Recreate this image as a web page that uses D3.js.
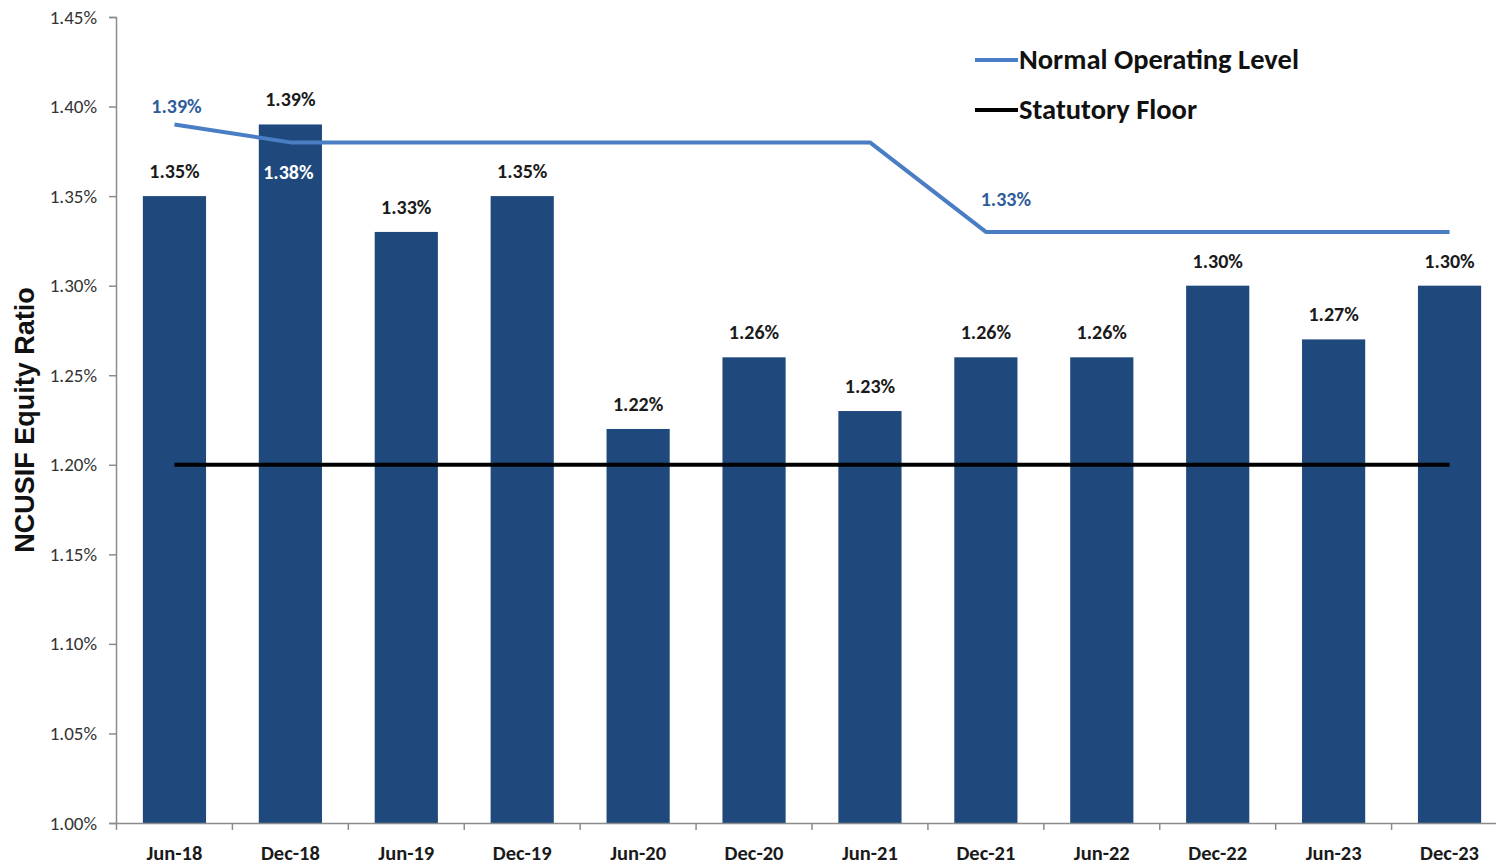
<!DOCTYPE html>
<html>
<head>
<meta charset="utf-8">
<script src="https://cdn.jsdelivr.net/npm/d3@7"></script>
<style>
  body { margin: 0; background: #fff; }
  svg { display: block; }
  text { font-family: Calibri, Carlito, "Liberation Sans Narrow", "Open Sans", sans-serif; }
</style>
</head>
<body>
<svg id="chart" width="1496" height="865"></svg>
<script>
// data
const periods = ["Jun-18", "Dec-18", "Jun-19", "Dec-19", "Jun-20", "Dec-20",
  "Jun-21", "Dec-21", "Jun-22", "Dec-22", "Jun-23", "Dec-23"];
const equityRatio = [1.35, 1.39, 1.33, 1.35, 1.22, 1.26, 1.23, 1.26, 1.26, 1.30, 1.27, 1.30];
const normalOperatingLevel = [1.39, 1.38, 1.38, 1.38, 1.38, 1.38, 1.38, 1.33, 1.33, 1.33, 1.33, 1.33];
const statutoryFloor = [1.20, 1.20, 1.20, 1.20, 1.20, 1.20, 1.20, 1.20, 1.20, 1.20, 1.20, 1.20];
const yTicks = [1.00, 1.05, 1.10, 1.15, 1.20, 1.25, 1.30, 1.35, 1.40, 1.45];
const legendItems = [
  { name: "Normal Operating Level", color: "#4a7ec4" },
  { name: "Statutory Floor", color: "#000000" }
];

const svg = d3.select("#chart");
const barColor = "#1f487c";
const lineBlue = "#4a7ec4";
const labelBlue = "#2f5d9b";

const x = d3.scaleBand().domain(periods).range([116.5, 1507.5]).paddingInner(0.455).paddingOuter(0.2275);
const y = d3.scaleLinear().domain([1.00, 1.45]).range([823, 17]);
const cx = d => x(d) + x.bandwidth() / 2;
const fmt = v => v.toFixed(2) + "%";

// y axis
const yAxis = svg.append("g")
  .attr("transform", "translate(116,0)")
  .call(d3.axisLeft(y).tickValues(yTicks).tickFormat(fmt).tickSize(7).tickPadding(12));
yAxis.select(".domain").attr("stroke", "#8c8c8c").attr("stroke-width", 1.5);
yAxis.selectAll(".tick line").attr("stroke", "#8c8c8c").attr("stroke-width", 1.5);
yAxis.selectAll(".tick text")
  .attr("font-size", 19).attr("fill", "#333")
  .style("font-family", "Calibri, Carlito, 'Liberation Sans Narrow', sans-serif");

// bars
svg.append("g").selectAll("rect")
  .data(periods)
  .join("rect")
  .attr("x", d => x(d))
  .attr("y", (d, i) => y(equityRatio[i]))
  .attr("width", x.bandwidth())
  .attr("height", (d, i) => y(1.00) - y(equityRatio[i]))
  .attr("fill", barColor);

// x axis (ticks at band boundaries)
const step = x.step();
const xStart = 116.5;
const bounds = d3.range(periods.length + 1).map(i => xStart + i * step);
svg.append("line")
  .attr("x1", 116).attr("x2", 1496).attr("y1", 823.5).attr("y2", 823.5)
  .attr("stroke", "#8c8c8c").attr("stroke-width", 1.5);
svg.append("g").selectAll("line")
  .data(bounds)
  .join("line")
  .attr("x1", d => d).attr("x2", d => d)
  .attr("y1", 823).attr("y2", 830)
  .attr("stroke", "#8c8c8c").attr("stroke-width", 1.5);
svg.append("g").selectAll("text")
  .data(periods)
  .join("text")
  .attr("x", d => cx(d))
  .attr("y", 860)
  .attr("text-anchor", "middle")
  .attr("font-size", 20.5)
  .attr("font-weight", "bold")
  .attr("fill", "#1a1a1a")
  .text(d => d);

// lines
const line = d3.line().x(d => cx(d.p)).y(d => y(d.v));
svg.append("path")
  .datum(periods.map((p, i) => ({ p, v: statutoryFloor[i] })))
  .attr("d", line)
  .attr("fill", "none").attr("stroke", "#000").attr("stroke-width", 4);
svg.append("path")
  .datum(periods.map((p, i) => ({ p, v: normalOperatingLevel[i] })))
  .attr("d", line)
  .attr("fill", "none").attr("stroke", lineBlue).attr("stroke-width", 4)
  .attr("stroke-linejoin", "round");

// bar labels
svg.append("g").selectAll("text")
  .data(periods)
  .join("text")
  .attr("x", d => cx(d))
  .attr("y", (d, i) => y(equityRatio[i]) - 18)
  .attr("text-anchor", "middle")
  .attr("font-size", 20)
  .attr("font-weight", "bold")
  .attr("fill", "#1a1a1a")
  .text((d, i) => fmt(equityRatio[i]));

// operating level labels (only where level changes)
const nolLabels = [
  { i: 0, dx: 2, dy: -11, color: labelBlue },
  { i: 1, dx: -2, dy: 37, color: "#ffffff" },
  { i: 7, dx: 20, dy: -26, color: labelBlue }
];
svg.append("g").selectAll("text")
  .data(nolLabels)
  .join("text")
  .attr("x", d => cx(periods[d.i]) + d.dx)
  .attr("y", d => y(normalOperatingLevel[d.i]) + d.dy)
  .attr("text-anchor", "middle")
  .attr("font-size", 20)
  .attr("font-weight", "bold")
  .attr("fill", d => d.color)
  .text(d => fmt(normalOperatingLevel[d.i]));

// y title
svg.append("text")
  .attr("transform", "translate(34,420) rotate(-90)")
  .attr("text-anchor", "middle")
  .attr("font-size", 27)
  .attr("font-weight", "bold")
  .style("font-family", "'Liberation Sans', Arial, sans-serif")
  .attr("fill", "#111")
  .text("NCUSIF Equity Ratio");

// legend
const legend = svg.append("g").attr("transform", "translate(975,60)");
const li = legend.selectAll("g")
  .data(legendItems)
  .join("g")
  .attr("transform", (d, i) => `translate(0,${i * 50})`);
li.append("line")
  .attr("x1", 0).attr("x2", 43).attr("y1", 0).attr("y2", 0)
  .attr("stroke", d => d.color).attr("stroke-width", 4);
li.append("text")
  .attr("x", 44).attr("y", 9)
  .attr("font-size", 28.5)
  .attr("font-weight", "bold")
  .attr("fill", "#111")
  .text(d => d.name);
</script>
</body>
</html>
